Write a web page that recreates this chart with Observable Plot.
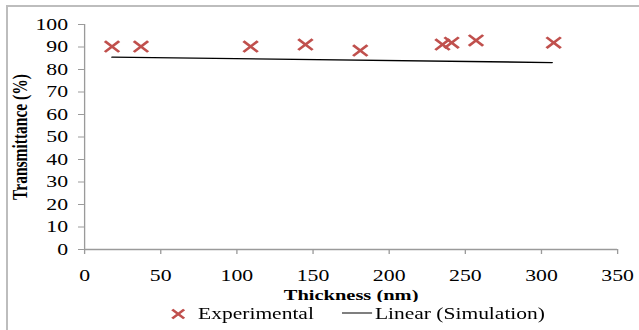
<!DOCTYPE html>
<html>
<head>
<meta charset="utf-8">
<script src="https://cdn.jsdelivr.net/npm/d3@7"></script>
<script src="https://cdn.jsdelivr.net/npm/@observablehq/plot@0.6"></script>
<style>
  html, body { margin: 0; padding: 0; background: #fff; width: 639px; height: 330px; overflow: hidden; }
  #wrap { position: absolute; left: 0; top: 0; width: 484px; transform: scaleX(1.32); transform-origin: 0 0; }
  #frame { position: absolute; left: 6px; top: 5px; width: 700px; height: 400px; border-left: 2px solid #bdbdbd; border-top: 2px solid #bdbdbd; pointer-events: none; }
  #legend { position: relative; height: 28px; font-family: "Liberation Serif", serif; font-size: 16.3px; color: #000; }
  .item { position: absolute; top: 0; height: 24px; line-height: 24px; white-space: nowrap; }
  svg text { font-family: "Liberation Serif", serif; }
</style>
</head>
<body>
<div id="wrap"></div>
<div id="frame"></div>
<script>
const thickness = [18, 37, 109, 145, 181, 235, 241, 257, 308];
const transmittance = [90.2, 90.2, 90.2, 91.1, 88.4, 91.1, 91.9, 92.9, 91.9];
const simThickness = [18, 307];
const simTransmittance = [85.5, 83.1];
const xTicks = [0, 50, 100, 150, 200, 250, 300, 350];
const yTicks = [0, 10, 20, 30, 40, 50, 60, 70, 80, 90, 100];
const seriesNames = ["Experimental", "Linear (Simulation)"];
const xLabel = "Thickness (nm)";
const yLabel = "Transmittance (%)";

const exp = thickness.map((t, i) => ({x: t, y: transmittance[i]}));
const sim = simThickness.map((t, i) => ({x: t, y: simTransmittance[i]}));

const chart = Plot.plot({
  width: 484,
  height: 302,
  marginLeft: 63.6,
  marginRight: 16.6,
  marginTop: 24,
  marginBottom: 53,
  style: {fontFamily: "'Liberation Serif', serif", fontSize: "16.5px", color: "#000", background: "#fff"},
  x: {domain: [0, 350]},
  y: {domain: [0, 100]},
  marks: [
    Plot.ruleY([0], {stroke: "#9a9a9a", strokeWidth: 1.3}),
    Plot.ruleX([0], {stroke: "#9a9a9a", strokeWidth: 1}),
    Plot.axisX({ticks: xTicks, tickSize: 5, tickPadding: 15, stroke: "#9a9a9a", fill: "#000", fontSize: 16.5,
      label: xLabel, labelAnchor: "center", labelOffset: 50, labelArrow: "none"}),
    Plot.axisY({ticks: yTicks, tickSize: 4.5, tickPadding: 8, stroke: "#9a9a9a", fill: "#000", fontSize: 16.5,
      label: yLabel, labelAnchor: "center", labelOffset: 55, labelArrow: "none"}),
    Plot.line(sim, {x: "x", y: "y", stroke: "#000", strokeWidth: 1.3}),
    Plot.dot(exp, {x: "x", y: "y", symbol: "times", r: 5, stroke: "#c0504d", strokeWidth: 2.3})
  ]
});
// bold axis titles only
chart.querySelectorAll("g[aria-label='x-axis label'] text, g[aria-label='y-axis label'] text").forEach(t => {
  t.style.fontWeight = "bold"; t.style.fontSize = "15.5px"; t.style.fontFamily = "'Liberation Serif', serif";
});
document.getElementById("wrap").appendChild(chart);

const legend = document.createElement("div");
legend.id = "legend";
legend.innerHTML = `
  <div class="item" style="left:129px">
    <svg width="12" height="24" style="vertical-align:top"><path d="M1.5,7.5L10.5,16.5M10.5,7.5L1.5,16.5" stroke="#c0504d" stroke-width="2.3"/></svg>
    <span style="margin-left:5px">${seriesNames[0]}</span>
  </div>
  <div class="item" style="left:259px">
    <svg width="23" height="24" style="vertical-align:top"><line x1="0" x2="23" y1="11" y2="11" stroke="#000" stroke-width="1.2"/></svg><span style="margin-left:2px">${seriesNames[1]}</span>
  </div>`;
document.getElementById("wrap").appendChild(legend);
</script>
</body>
</html>
